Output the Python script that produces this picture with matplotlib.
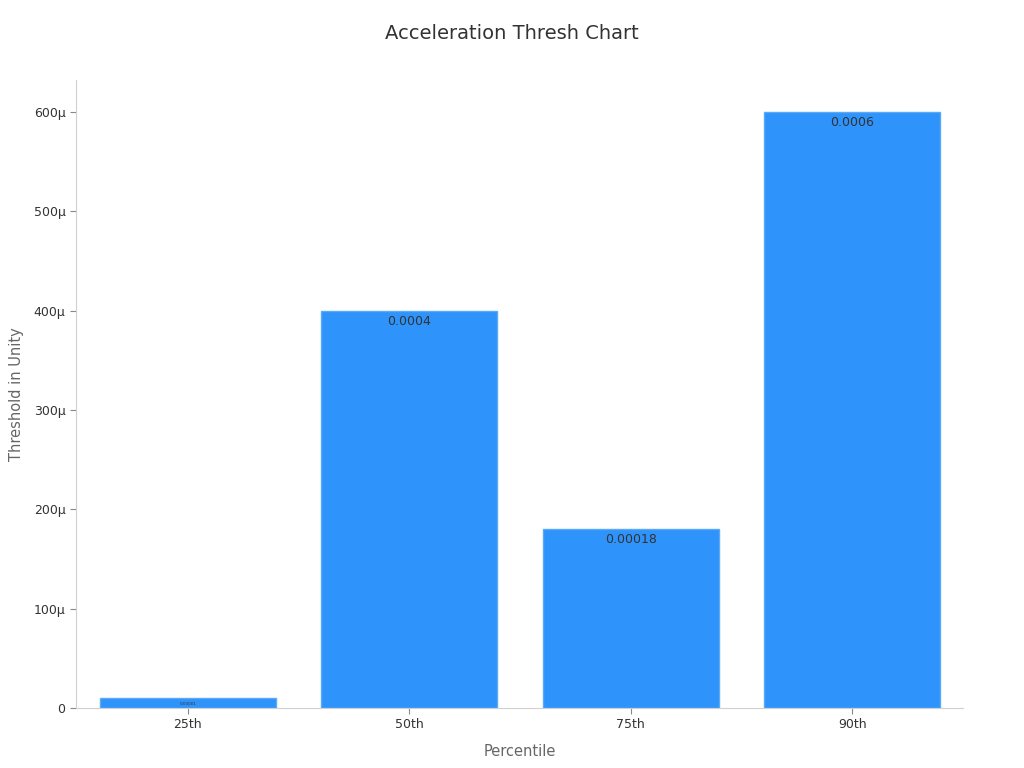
import matplotlib.pyplot as plt
from matplotlib.ticker import FuncFormatter

percentiles = ['25th', '50th', '75th', '90th']
thresholds = [0.00001, 0.0004, 0.00018, 0.0006]
labels = ['0.00001', '0.0004', '0.00018', '0.0006']


def micro(v, pos):
    if abs(v) < 1e-12:
        return '0'
    return '{}\u00b5'.format(int(round(v * 1e6)))


fig = plt.figure(figsize=(10.24, 7.68), dpi=100)
ax = fig.add_axes([76 / 1024, 60 / 768, 887 / 1024, 628 / 768])

bars = ax.bar(range(len(percentiles)), thresholds, width=0.795,
              color='#2E93FA', edgecolor='#5AAAF8', linewidth=1)

for i, (b, lab) in enumerate(zip(bars, labels)):
    top = b.get_height()
    size = 3 if i == 0 else 9
    ax.text(b.get_x() + b.get_width() / 2, top - 0.000004, lab,
            ha='center', va='top', fontsize=size, color='#333333')

ax.set_xlim(-0.505, 3.5)
ax.set_ylim(0, 0.000632)
ax.set_xticks(range(len(percentiles)))
ax.set_xticklabels(percentiles)
ax.set_yticks([0, 0.0001, 0.0002, 0.0003, 0.0004, 0.0005, 0.0006])
ax.yaxis.set_major_formatter(FuncFormatter(micro))
ax.tick_params(axis='both', labelsize=9, colors='#333333', length=4, color='#888888')

for s in ['top', 'right']:
    ax.spines[s].set_visible(False)
for s in ['left', 'bottom']:
    ax.spines[s].set_color('#d0d0d0')

ax.set_xlabel('Percentile', fontsize=10.5, color='#666666', labelpad=9)
ax.set_ylabel('Threshold in Unity', fontsize=10.5, color='#666666', labelpad=7)
fig.text(0.5, 0.957, 'Acceleration Thresh Chart', ha='center', va='center',
         fontsize=14, color='#333333')

fig.savefig('out.png')
